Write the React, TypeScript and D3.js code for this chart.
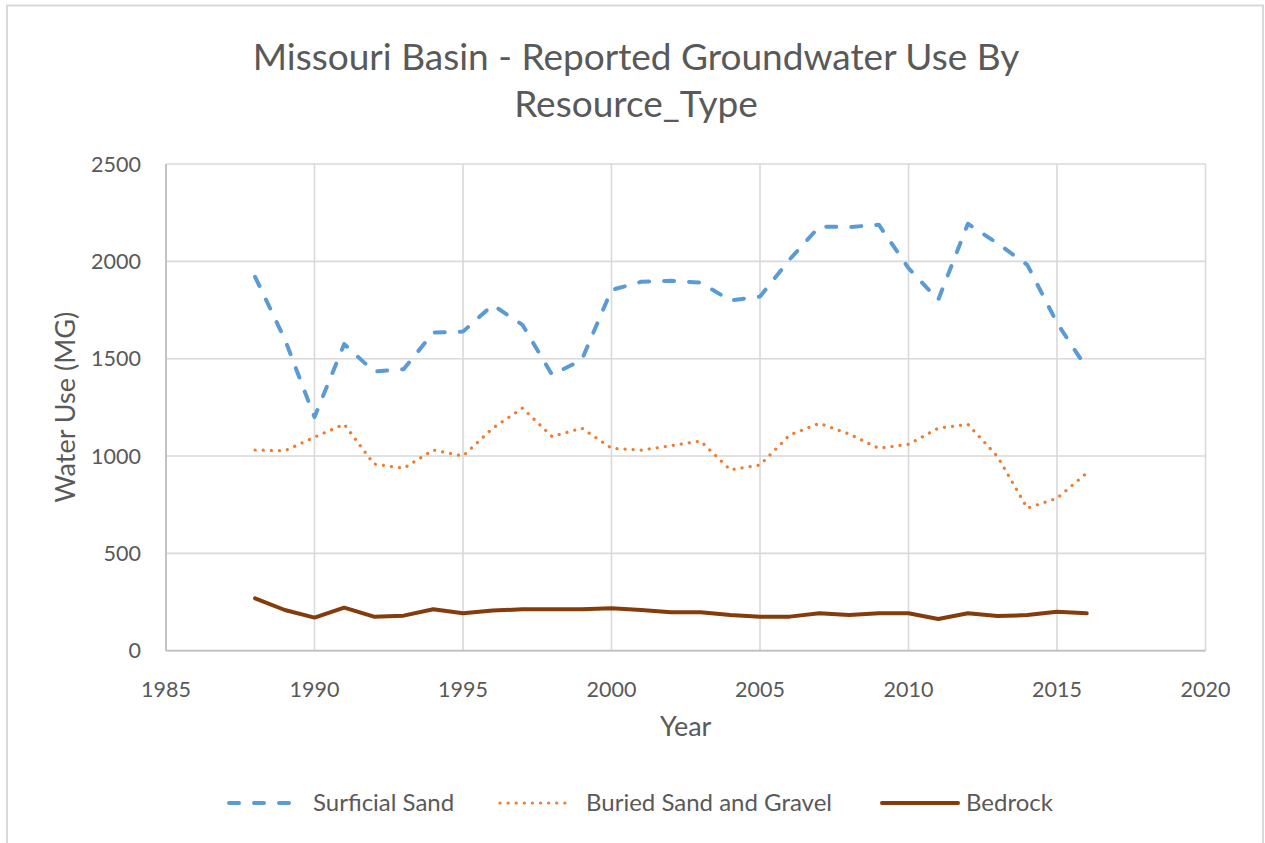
import React from "react";
import * as d3 from "d3";

const years = [1988,1989,1990,1991,1992,1993,1994,1995,1996,1997,1998,1999,2000,2001,2002,2003,2004,2005,2006,2007,2008,2009,2010,2011,2012,2013,2014,2015,2016];
const surficialSand = [1920,1600,1200,1575,1434,1446,1634,1639,1776,1674,1417,1494,1853,1895,1900,1891,1799,1819,2010,2179,2176,2188,1965,1802,2193,2092,1982,1684,1451];
const buriedSandGravel = [1031,1027,1097,1163,959,937,1031,1000,1143,1246,1100,1143,1040,1030,1053,1077,929,954,1108,1168,1113,1040,1060,1143,1163,997,732,783,912];
const bedrock = [269,209,170,221,175,180,213,192,206,213,213,213,218,209,197,197,183,175,175,192,183,192,192,163,192,178,183,200,192];
const xTicks = [1985,1990,1995,2000,2005,2010,2015,2020];
const yTicks = [0,500,1000,1500,2000,2500];
const titleLines = ["Missouri Basin - Reported Groundwater Use By", "Resource_Type"];

const series = [
  { name: "Surficial Sand", values: surficialSand, color: "#5B9BD5", width: 4, dash: "10 15", cap: "round" },
  { name: "Buried Sand and Gravel", values: buriedSandGravel, color: "#ED7D31", width: 3.2, dash: "0.1 8", cap: "round" },
  { name: "Bedrock", values: bedrock, color: "#843C0C", width: 4, dash: null, cap: "round" },
];

const W = 1265, H = 843;
const left = 166, right = 1205.5, top = 164, bottom = 650.7;
const FONT = "Lato, 'Open Sans', sans-serif";
const TXT = "#595959";

export default function App() {
  const x = d3.scaleLinear().domain([1985, 2020]).range([left, right]);
  const y = d3.scaleLinear().domain([0, 2500]).range([bottom, top]);
  const line = d3.line<number>().x((_, i) => x(years[i])).y((d) => y(d));

  const legendItems = [
    { sx: 229, ex: 303, tx: 313 },
    { sx: 500, ex: 572, tx: 586 },
    { sx: 882, ex: 958, tx: 966 },
  ];
  const legendY = 803;

  return (
    <svg width={W} height={H} style={{ position: "absolute", left: 0, top: 0, background: "#fff" }} fontFamily={FONT}>
      <rect x={0} y={0} width={W} height={H} fill="#fff" />
      <path d={`M7,${H + 5} V5.5 H1263 V${H + 5}`} fill="none" stroke="#D9D9D9" strokeWidth={2} />
      {titleLines.map((t, i) => (
        <text key={i} x={636} y={57 + i * 47} dy="0.35em" textAnchor="middle" fontSize={37} fill={TXT}>{t}</text>
      ))}
      {yTicks.map((v) => (
        <line key={"gy" + v} x1={left} x2={right} y1={y(v)} y2={y(v)} stroke="#D9D9D9" strokeWidth={1.6} />
      ))}
      {xTicks.map((v) => (
        <line key={"gx" + v} x1={x(v)} x2={x(v)} y1={top} y2={bottom} stroke="#D9D9D9" strokeWidth={1.6} />
      ))}
      <line x1={left} x2={left} y1={top} y2={bottom} stroke="#BFBFBF" strokeWidth={1.8} />
      <line x1={left} x2={right} y1={bottom} y2={bottom} stroke="#BFBFBF" strokeWidth={1.8} />
      {yTicks.map((v) => (
        <text key={"ty" + v} x={141} y={y(v)} dy="0.35em" textAnchor="end" fontSize={21.5} fill={TXT}>{v}</text>
      ))}
      {xTicks.map((v) => (
        <text key={"tx" + v} x={x(v)} y={689} dy="0.35em" textAnchor="middle" fontSize={21.5} fill={TXT}>{v}</text>
      ))}
      <text transform={`translate(66,${(top + bottom) / 2}) rotate(-90)`} dy="0.35em" textAnchor="middle" fontSize={27} fill={TXT}>Water Use (MG)</text>
      <text x={(left + right) / 2} y={727} dy="0.35em" textAnchor="middle" fontSize={27} fill={TXT}>Year</text>
      {series.map((s) => (
        <path key={s.name} d={line(s.values) || ""} fill="none" stroke={s.color} strokeWidth={s.width}
          strokeDasharray={s.dash || undefined} strokeLinecap={s.cap as any} strokeLinejoin="round" />
      ))}
      {series.map((s, i) => (
        <g key={"lg" + s.name}>
          <line x1={legendItems[i].sx} x2={legendItems[i].ex} y1={legendY} y2={legendY} stroke={s.color}
            strokeWidth={s.width} strokeDasharray={s.dash || undefined} strokeLinecap={s.cap as any} />
          <text x={legendItems[i].tx} y={legendY} dy="0.35em" fontSize={24} fill={TXT}>{s.name}</text>
        </g>
      ))}
    </svg>
  );
}
